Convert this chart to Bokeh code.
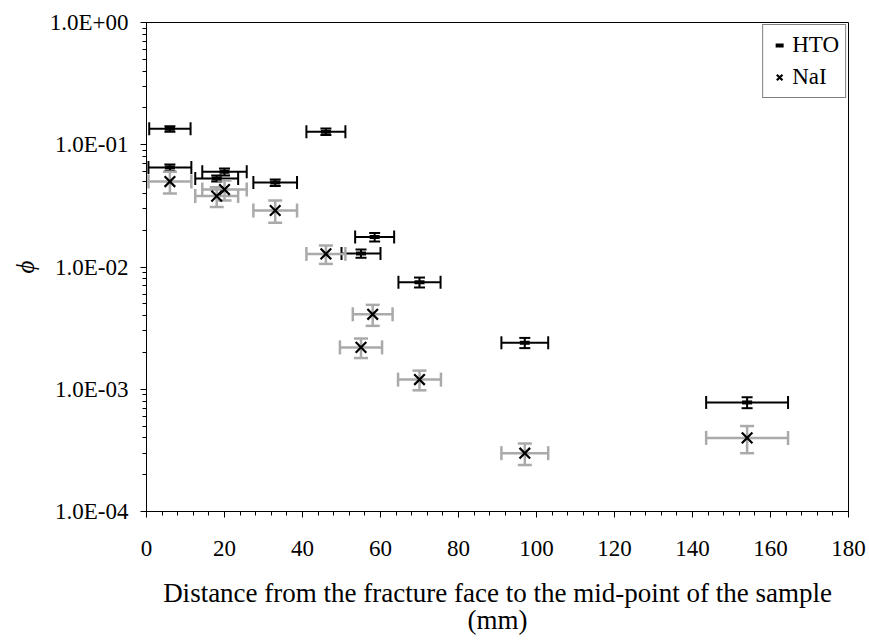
from bokeh.plotting import figure
from bokeh.models import (Whisker, TeeHead, ColumnDataSource, FixedTicker,
                          CustomJSTickFormatter, Legend, LegendItem)
from bokeh.embed import file_html
from bokeh.resources import INLINE

# ---- data ----
hto_x = [6, 6, 20, 18, 33, 46, 58.5, 55, 70, 97, 154]
hto_y = [0.135, 0.065, 0.060, 0.053, 0.049, 0.128, 0.0176, 0.0129, 0.0075, 0.0024, 0.00078]
hto_xerr = [5.3, 5.5, 5.7, 5.5, 5.6, 5.0, 5.0, 5.0, 5.4, 6.0, 10.5]
hto_yerr = [0.007, 0.004, 0.004, 0.003, 0.003, 0.008, 0.0014, 0.001, 0.0007, 0.00023, 0.00008]

nai_x = [6, 20, 18, 33, 46, 58, 55, 70, 97, 154]
nai_y = [0.050, 0.043, 0.038, 0.029, 0.0128, 0.0041, 0.0022, 0.0012, 0.00030, 0.00040]
nai_xerr = [5.5, 5.7, 5.5, 5.6, 5.0, 5.1, 5.4, 5.5, 6.0, 10.5]
nai_yerr = [0.010, 0.008, 0.007, 0.006, 0.0022, 0.0008, 0.0004, 0.00022, 0.00006, 0.0001]

x_tick_values = [0, 20, 40, 60, 80, 100, 120, 140, 160, 180]
y_tick_values = [1e-4, 1e-3, 1e-2, 1e-1, 1.0]
y_tick_labels = ["1.0E-04", "1.0E-03", "1.0E-02", "1.0E-01", "1.0E+00"]

x_title = "Distance from the fracture face to the mid-point of the sample\n(mm)"
y_title = "\u03d5"
series_names = ["HTO", "NaI"]

FONT = "Liberation Serif"
FS = "23px"

p = figure(width=869, height=641, y_axis_type="log",
           x_range=(0, 180), y_range=(1e-4, 1.0),
           output_backend="svg", toolbar_location=None,
           min_border_left=146, min_border_right=21,
           min_border_top=22, min_border_bottom=130)
p.background_fill_color = "white"
p.border_fill_color = "white"
p.outline_line_color = "black"
p.outline_line_width = 1
p.xgrid.visible = False
p.ygrid.visible = False


def make_src(xs, ys, xe, ye):
    return ColumnDataSource(dict(
        x=xs, y=ys,
        xl=[a - b for a, b in zip(xs, xe)], xh=[a + b for a, b in zip(xs, xe)],
        yl=[a - b for a, b in zip(ys, ye)], yh=[a + b for a, b in zip(ys, ye)]))


hto_src = make_src(hto_x, hto_y, hto_xerr, hto_yerr)
nai_src = make_src(nai_x, nai_y, nai_xerr, nai_yerr)


def add_bars(src, color, width, xcap, ycap):
    p.add_layout(Whisker(source=src, base="y", lower="xl", upper="xh", dimension="width",
                         line_color=color, line_width=width, level="underlay",
                         upper_head=TeeHead(size=xcap, line_color=color, line_width=width),
                         lower_head=TeeHead(size=xcap, line_color=color, line_width=width)))
    p.add_layout(Whisker(source=src, base="x", lower="yl", upper="yh", dimension="height",
                         line_color=color, line_width=width, level="underlay",
                         upper_head=TeeHead(size=ycap, line_color=color, line_width=width),
                         lower_head=TeeHead(size=ycap, line_color=color, line_width=width)))


add_bars(hto_src, "black", 2, 13, 11)
add_bars(nai_src, "#aaaaaa", 2.5, 14, 14)

r_hto = p.scatter("x", "y", source=hto_src, marker="dash", size=10,
                  line_color="black", line_width=4)
r_nai = p.scatter("x", "y", source=nai_src, marker="x", size=15,
                  line_color="black", line_width=2.2)

legend = Legend(items=[LegendItem(label=series_names[0], renderers=[r_hto]),
                       LegendItem(label=series_names[1], renderers=[r_nai])],
                location="top_right", margin=2, padding=6, spacing=4,
                glyph_width=20, glyph_height=28, label_height=28, label_standoff=3,
                border_line_color="black", border_line_width=1,
                background_fill_color="white", background_fill_alpha=1,
                label_text_font=FONT, label_text_font_size=FS, label_text_color="black")
p.add_layout(legend)

# axes
p.xaxis.ticker = FixedTicker(ticks=x_tick_values, minor_ticks=list(range(0, 181, 4)))
p.yaxis.ticker = FixedTicker(ticks=y_tick_values,
                             minor_ticks=[m * 10.0 ** k for k in range(-4, 0) for m in range(2, 10)])
p.yaxis.formatter = CustomJSTickFormatter(args=dict(vals=y_tick_values, labs=y_tick_labels), code="""
for (let i = 0; i < vals.length; i++) {
  if (Math.abs(Math.log10(tick) - Math.log10(vals[i])) < 1e-6) return labs[i];
}
return '';
""")

for ax in (p.xaxis[0], p.yaxis[0]):
    ax.axis_line_color = "black"
    ax.axis_line_width = 1
    ax.major_tick_line_color = "black"
    ax.minor_tick_line_color = "black"
    ax.major_tick_in = 0
    ax.major_tick_out = 6
    ax.minor_tick_in = 0
    ax.minor_tick_out = 4
    ax.major_label_text_font = FONT
    ax.major_label_text_font_size = FS
    ax.major_label_text_color = "black"
    ax.axis_label_text_font = FONT
    ax.axis_label_text_color = "black"

p.xaxis.axis_label = x_title
p.xaxis.axis_label_text_font_style = "normal"
p.xaxis.axis_label_text_font_size = "27px"
p.xaxis.axis_label_text_line_height = 0.9
p.xaxis.major_label_standoff = 23
p.xaxis.axis_label_standoff = 19

p.yaxis.axis_label = y_title
p.yaxis.axis_label_text_font_style = "italic"
p.yaxis.axis_label_text_font_size = "25px"
p.yaxis.major_label_standoff = 12
p.yaxis.axis_label_standoff = 8

open("out.html", "w").write(file_html(p, INLINE))
